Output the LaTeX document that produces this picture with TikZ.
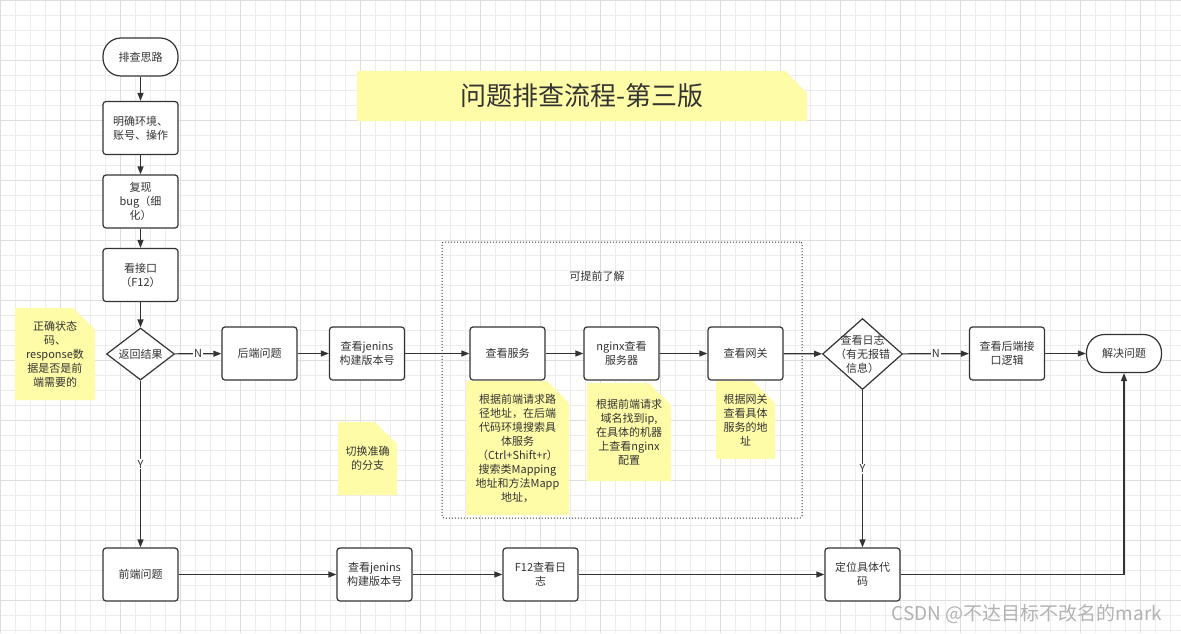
\documentclass[tikz,border=0pt]{standalone}
\usepackage{fontspec}
\setmainfont{Noto Sans CJK SC}
\usepackage{tikz}
\usetikzlibrary{positioning, arrows.meta, shapes.geometric, shapes.misc}
\definecolor{inkgray}{RGB}{51,51,51}
\definecolor{memoyellow}{RGB}{255,252,168}
\definecolor{memofold}{RGB}{212,210,136}
\definecolor{gridminor}{RGB}{236,236,236}
\definecolor{gridmajor}{RGB}{222,222,222}
\tikzset{
  proc/.style={
    draw=inkgray, line width=1.2pt, rounded corners=3pt,
    fill=white, minimum width=75pt, minimum height=53pt,
    align=center, text=inkgray, inner sep=2pt
  },
  term/.style={proc, rounded corners=18pt, minimum height=38pt},
  decision/.style={draw=inkgray, line width=1.2pt, diamond, fill=white, inner sep=0pt},
  dectext/.style={align=center, text=inkgray, inner sep=0pt},
  memo/.style={
    chamfered rectangle, chamfered rectangle corners=north east,
    chamfered rectangle xsep=11pt, chamfered rectangle ysep=11pt,
    fill=memoyellow, align=center, text=inkgray,
    inner xsep=-9pt, inner ysep=2pt,
    path picture={\fill[memofold]
      ([xshift=-11pt]path picture bounding box.north east)
      -- ++(0,-11pt) -- ++(11pt,0) -- cycle;}
  },
  group/.style={draw=inkgray, dotted, line width=1pt, rounded corners=2pt},
  flow/.style={draw=inkgray, line width=1.2pt, -{Triangle[length=8pt,width=6pt]}},
  yn/.style={fill=white, inner sep=1pt, text=inkgray},
}

\begin{document}
\begin{tikzpicture}[x=1pt, y=1pt, font=\fontsize{11}{14}\selectfont]
  \fill[white] (0,0) rectangle (1181,-633);
  \useasboundingbox (0,0) rectangle (1181,-633);
  \draw[gridminor, line width=.6pt] (0,-633) grid[step=15] (1181,0);
  \draw[gridmajor, line width=.6pt] (0,-633) grid[step=60] (1181,0);

  \node[memo, minimum width=450pt, minimum height=50pt,
        font=\fontsize{26}{30}\selectfont] (title) at (582,-96) {问题排查流程-第三版};

  \node[group, minimum width=360pt, minimum height=276pt] (early) at (622,-380) {};
  \node[text=inkgray] (earlytxt) at (597,-276) {可提前了解};

  \node[term] (start) at (140.5,-57) {排查思路};
  \node[proc] (env)   at (140.5,-128) {明确环境、\\账号、操作};
  \node[proc] (repro) at (140.5,-201.5) {复现\\bug（细\\化）};
  \node[proc] (api)   at (140.5,-275) {看接口\\（F12）};
  \node[decision, minimum width=68pt, minimum height=52pt,
        label={[dectext]center:返回结果}] (ret) at (140.5,-354) {};

  \node[proc] (back) at (259.5,-353.5) {后端问题};
  \node[proc] (jen1) at (367,-353.5)   {查看jenins\\构建版本号};
  \node[proc] (svc)  at (507.5,-353.5) {查看服务};
  \node[proc] (ngx)  at (621.5,-353.5) {nginx查看\\服务器};
  \node[proc] (gw)   at (745.5,-353.5) {查看网关};
  \node[decision, minimum width=80pt, minimum height=71pt,
        label={[dectext]center:{查看日志\\（有无报错\\信息）}}] (log) at (862.5,-354) {};
  \node[proc] (logic) at (1007,-353.5) {查看后端接\\口逻辑};
  \node[term] (solve) at (1124,-353.5) {解决问题};

  \node[proc] (front) at (140.5,-574.5) {前端问题};
  \node[proc] (jen2)  at (374.5,-574.5) {查看jenins\\构建版本号};
  \node[proc] (f12)   at (540.5,-574.5) {F12查看日\\志};
  \node[proc] (code)  at (862.5,-574.5) {定位具体代\\码};

  \node[memo, minimum width=80pt, minimum height=84pt] (tipret) at (55,-354)
    {正确状态\\码、\\response数\\据是否是前\\端需要的};
  \node[memo, minimum width=103pt, minimum height=130pt] (tipsvc) at (517.5,-448)
    {根据前端请求路\\径地址，在后端\\代码环境搜索具\\体服务\\（Ctrl+Shift+r）\\搜索类Mapping\\地址和方法Mapp\\地址，};
  \node[memo, minimum width=84pt, minimum height=98pt] (tipngx) at (629,-432)
    {根据前端请求\\域名找到ip,\\在具体的机器\\上查看nginx\\配置};
  \node[memo, minimum width=59pt, minimum height=74pt] (tipgw) at (745.5,-420)
    {根据网关\\查看具体\\服务的地\\址};
  \node[memo, minimum width=59pt, minimum height=73pt] (tipbranch) at (367.5,-458.5)
    {切换准确\\的分支};

  \draw[flow] (start) -- (env);
  \draw[flow] (env) -- (repro);
  \draw[flow] (repro) -- (api);
  \draw[flow] (api) -- (ret);
  \draw[flow] (ret) -- node[yn] {N} (back);
  \draw[flow] (ret) -- node[yn] {Y} (front);
  \draw[flow] (back) -- (jen1);
  \draw[flow] (jen1) -- (svc);
  \draw[flow] (svc) -- (ngx);
  \draw[flow] (ngx) -- (gw);
  \draw[flow] (gw) -- (log);
  \draw[flow] (log) -- node[yn] {N} (logic);
  \draw[flow] (log) -- node[yn] {Y} (code);
  \draw[flow] (logic) -- (solve);
  \draw[flow] (front) -- (jen2);
  \draw[flow] (jen2) -- (f12);
  \draw[flow] (f12) -- (code);
  \draw[flow] (code) -| (solve);

  \node[text=gray!60, font=\fontsize{19}{22}\selectfont] (csdn) at (1027,-614)
    {CSDN @不达目标不改名的mark};
\end{tikzpicture}
\end{document}
